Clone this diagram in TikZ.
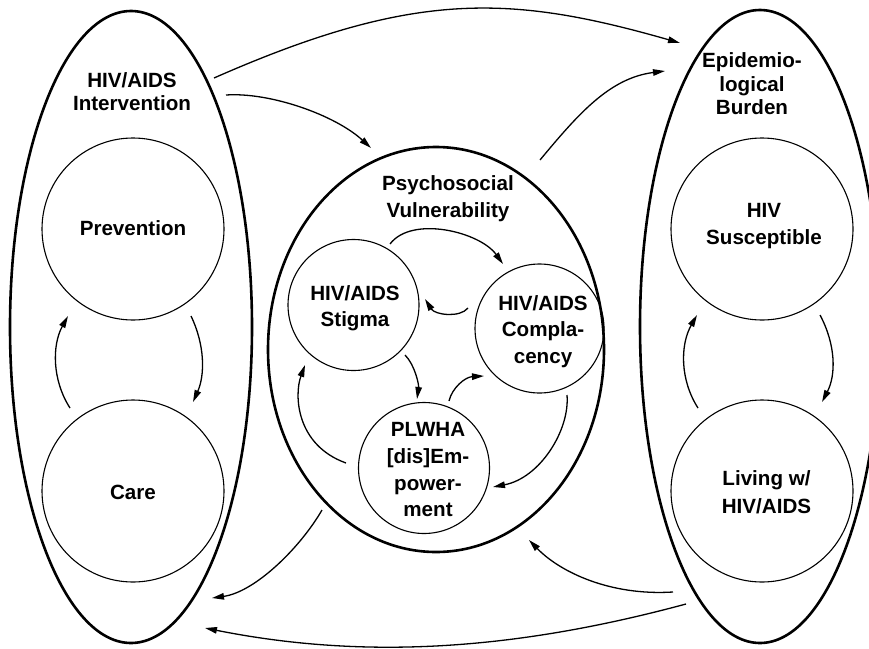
\documentclass[tikz,border=0pt]{standalone}
\usepackage{fontspec}
\setmainfont{Liberation Sans}
\usetikzlibrary{arrows.meta,shapes.geometric}
% centred lines in a \vtop, so the node's base is the first line's baseline
\newcommand\stackl[2][26.7pt]{\vtop{\baselineskip=#1\relax\lineskiplimit=-100pt\halign{\hfil##\hfil\cr#2\crcr}}}
\begin{document}
\begin{tikzpicture}[x=1pt,y=-1pt,
  groupbox/.style={draw, ellipse, line width=2.6pt, inner sep=0pt},
  stage/.style={draw, circle, line width=1.1pt, inner sep=0pt},
  lbl/.style={anchor=base, inner sep=0pt, font=\fontsize{20.6}{26.7}\selectfont\bfseries},
  flow/.style={line width=1.3pt, -{Triangle[length=12pt,width=6.5pt]}}]
\useasboundingbox (0,0) rectangle (869,648);

% the three groups
\node[groupbox, minimum width=242pt, minimum height=632pt] (interv) at (131,327) {};
\node[groupbox, minimum width=240pt, minimum height=633pt] (burden) at (760,326.5) {};
\node[groupbox, minimum width=336pt, minimum height=405pt] (psych) at (436,349.5) {};

% stages inside the groups
\node[stage, minimum size=182pt] (prev) at (133,229) {};
\node[stage, minimum size=182pt] (care) at (133,491) {};
\node[stage, minimum size=182pt] (susc) at (762,229) {};
\node[stage, minimum size=182pt] (living) at (762,491) {};
\node[stage, minimum size=131pt] (stigma) at (353.5,305) {};
\node[stage, minimum size=129pt] (compl) at (539.5,328.5) {};
\node[stage, minimum size=131pt] (plwha) at (424,468) {};

% labels
\node[lbl] (t-interv) at (132,87.3) {\stackl[22.7pt]{HIV/AIDS\cr Intervention}};
\node[lbl] (t-burden) at (752,67.7) {\stackl[23.3pt]{Epidemio-\cr logical\cr Burden}};
\node[lbl] (t-psych) at (448,190.7) {\stackl[27pt]{Psychosocial\cr Vulnerability}};
\node[lbl] (t-stigma) at (355,300.7) {\stackl[26pt]{HIV/AIDS\cr Stigma}};
\node[lbl] (t-compl) at (543,310) {\stackl{HIV/AIDS\cr Compla-\cr cency}};
\node[lbl] (t-plwha) at (428,436.7) {\stackl{PLWHA\cr [dis]Em-\cr power-\cr ment}};
\node[lbl] (t-prev) at (133,235) {Prevention};
\node[lbl] (t-care) at (133,499.3) {Care};
\node[lbl] (t-susc) at (764,217.7) {\stackl{HIV\cr Susceptible}};
\node[lbl] (t-living) at (766.5,485) {\stackl[28.3pt]{Living w/\cr HIV/AIDS}};

% end points of the flows
\coordinate (ib-s) at (214,78);   \coordinate (ib-e) at (680,43);
\coordinate (ip-s) at (226,95);   \coordinate (ip-e) at (371,148);
\coordinate (pb-s) at (540,160);  \coordinate (pb-e) at (665,71);
\coordinate (bp-s) at (673,592);  \coordinate (bp-e) at (529,540);
\coordinate (bi-s) at (686,604);  \coordinate (bi-e) at (205,628);
\coordinate (pi-s) at (322,510);  \coordinate (pi-e) at (212,598);
\coordinate (pc-s) at (191,316);  \coordinate (pc-e) at (193,402);
\coordinate (cp-s) at (70,408);   \coordinate (cp-e) at (68,316);
\coordinate (sl-s) at (820,315);  \coordinate (sl-e) at (822,402);
\coordinate (ls-s) at (698,408);  \coordinate (ls-e) at (697,315);
\coordinate (stc-s) at (390,244); \coordinate (stc-e) at (503,264);
\coordinate (cst-s) at (468,308); \coordinate (cst-e) at (425,299);
\coordinate (stp-s) at (405,355); \coordinate (stp-e) at (417,399);
\coordinate (pcm-s) at (449,401); \coordinate (pcm-e) at (484,376);
\coordinate (pst-s) at (346,463); \coordinate (pst-e) at (305,365);
\coordinate (cpl-s) at (567,395); \coordinate (cpl-e) at (493,487);

% flows between the groups
\draw[flow] (ib-s) .. controls (414,-10) and (510,-5.6) .. (ib-e);
\draw[flow] (ip-s) .. controls (270,92) and (335,115) .. (ip-e);
\draw[flow] (pb-s) .. controls (579,113) and (610,78) .. (pb-e);
\draw[flow] (bp-s) .. controls (610,596) and (560,572) .. (bp-e);
\draw[flow] (bi-s) .. controls (521,648.5) and (370,661) .. (bi-e);
\draw[flow] (pi-s) .. controls (300,548) and (255,592) .. (pi-e);

% flows inside the outer groups
\draw[flow] (pc-s) .. controls (205,345) and (205,375) .. (pc-e);
\draw[flow] (cp-s) .. controls (52,380) and (52,345) .. (cp-e);
\draw[flow] (sl-s) .. controls (836,345) and (836,375) .. (sl-e);
\draw[flow] (ls-s) .. controls (680,380) and (680,345) .. (ls-e);

% flows inside the psychosocial group
\draw[flow] (stc-s) .. controls (412,215) and (480,232) .. (stc-e);
\draw[flow] (cst-s) .. controls (460,318) and (435,315) .. (cst-e);
\draw[flow] (stp-s) .. controls (415,365) and (419,385) .. (stp-e);
\draw[flow] (pcm-s) .. controls (452,388) and (465,377) .. (pcm-e);
\draw[flow] (pst-s) .. controls (296,445) and (294,395) .. (pst-e);
\draw[flow] (cpl-s) .. controls (570,430) and (540,478) .. (cpl-e);
\end{tikzpicture}
\end{document}
